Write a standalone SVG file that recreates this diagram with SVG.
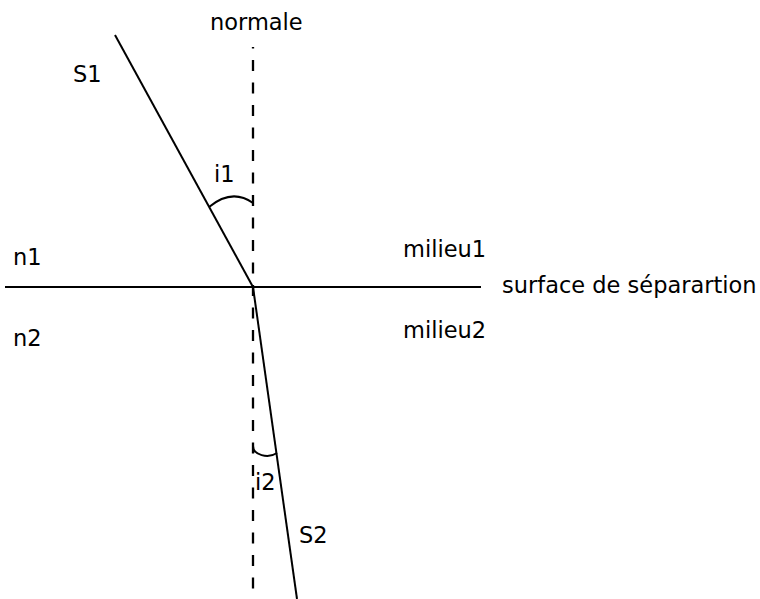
<svg xmlns="http://www.w3.org/2000/svg" width="760" height="599" viewBox="0 0 760 599">
<style>
.ln{stroke:#000;stroke-width:2;fill:none}
.dash{stroke:#000;stroke-width:2.3;fill:none;stroke-dasharray:11 11.5}
text{font-family:"DejaVu Sans","Liberation Sans",sans-serif;font-size:22.5px;fill:#000}
</style>
<rect width="760" height="599" fill="#fff"/>
<g id="lines">
<line class="dash" x1="253" y1="47" x2="253" y2="599" stroke-dashoffset="9.5"/>
<line class="ln" x1="5" y1="287" x2="481" y2="287"/>
<line class="ln" x1="115" y1="35" x2="253" y2="287"/>
<line class="ln" x1="253" y1="287" x2="297" y2="599"/>
<path class="ln" d="M209,207 Q232,188 253,203"/>
<path class="ln" d="M253,446 C253,455 268,459 277,453"/>
</g>
<g id="labels">
<text x="210" y="30">normale</text>
<text x="73" y="82">S1</text>
<text x="214" y="182">i1</text>
<text x="13" y="265">n1</text>
<text x="13" y="346">n2</text>
<text x="403" y="257">milieu1</text>
<text x="403" y="338">milieu2</text>
<text x="502" y="293">surface de séparartion</text>
<text x="255" y="490">i2</text>
<text x="299" y="543">S2</text>
</g>
</svg>
